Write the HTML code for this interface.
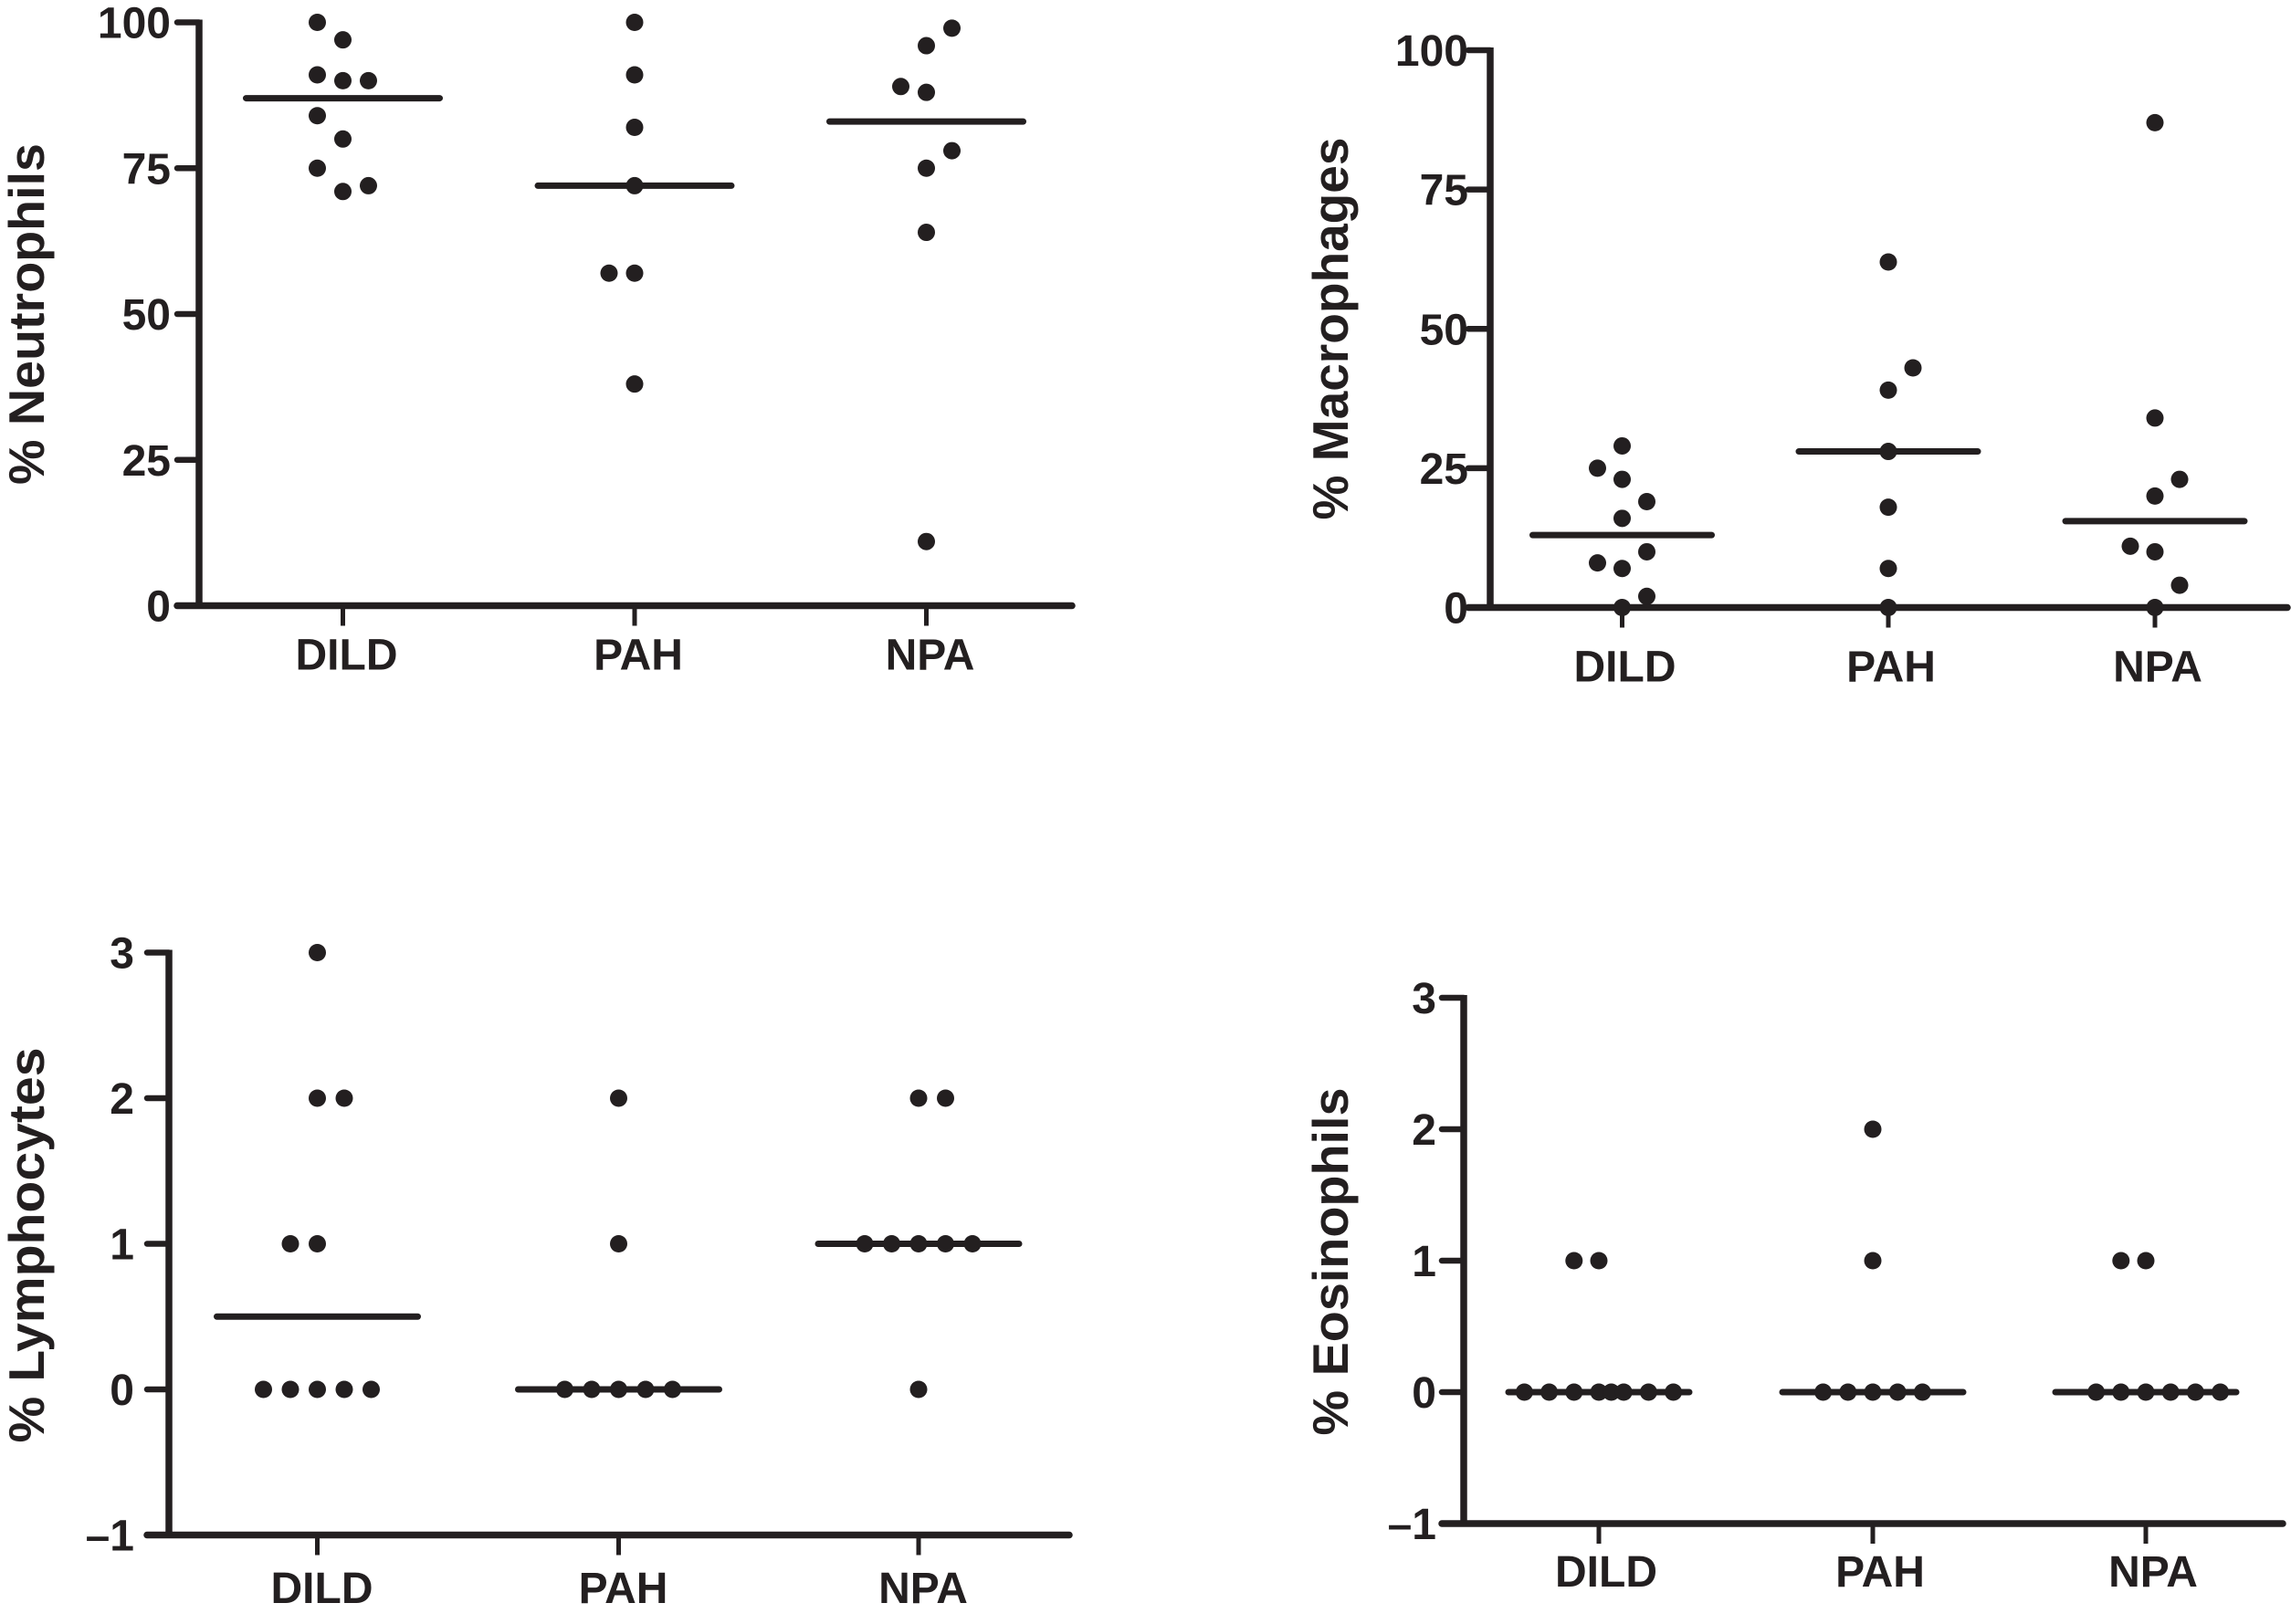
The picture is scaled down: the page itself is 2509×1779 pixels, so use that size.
<!DOCTYPE html>
<html lang="en">
<head>
<meta charset="utf-8">
<title>Cell percentages by diagnosis</title>
<style>
html,body{margin:0;padding:0;background:#fff;width:2509px;height:1779px;overflow:hidden}
svg{display:block}
text{font-family:"Liberation Sans",Arial,sans-serif;font-weight:700;fill:#231f20}
</style>
</head>
<body>
<svg id="figure" xmlns="http://www.w3.org/2000/svg" width="2509" height="1779" viewBox="0 0 2509 1779"></svg>
<script>
const categories = ['DILD', 'PAH', 'NPA'];

const percentTicks = [0, 25, 50, 75, 100];
const percentTickLabels = ['0', '25', '50', '75', '100'];
const smallTicks = [-1, 0, 1, 2, 3];
const smallTickLabels = ['–1', '0', '1', '2', '3'];

const neutrophilsDild = [100, 97, 91, 90, 90, 84, 80, 75, 72, 71];
const neutrophilsDildSlots = [-1, 0, -1, 0, 1, -1, 0, -1, 1, 0];
const neutrophilsPah = [100, 91, 82, 72, 57, 57, 38];
const neutrophilsPahSlots = [0, 0, 0, 0, -1, 0, 0];
const neutrophilsNpa = [99, 96, 89, 88, 78, 75, 64, 11];
const neutrophilsNpaSlots = [1, 0, -1, 0, 1, 0, 0, 0];
const neutrophilsMedians = [87, 72, 83];

const macrophagesDild = [29, 25, 23, 19, 16, 10, 8, 7, 2, 0];
const macrophagesDildSlots = [0, -1, 0, 1, 0, 1, -1, 0, 1, 0];
const macrophagesPah = [62, 43, 39, 28, 18, 7, 0];
const macrophagesPahSlots = [0, 1, 0, 0, 0, 0, 0];
const macrophagesNpa = [87, 34, 23, 20, 11, 10, 4, 0];
const macrophagesNpaSlots = [0, 0, 1, 0, -1, 0, 1, 0];
const macrophagesMedians = [13, 28, 15.5];

const lymphocytesDild = [3, 2, 2, 1, 1, 0, 0, 0, 0, 0];
const lymphocytesDildSlots = [0, 0, 1, -1, 0, -2, -1, 0, 1, 2];
const lymphocytesPah = [2, 1, 0, 0, 0, 0, 0];
const lymphocytesPahSlots = [0, 0, -2, -1, 0, 1, 2];
const lymphocytesNpa = [2, 2, 1, 1, 1, 1, 1, 0];
const lymphocytesNpaSlots = [0, 1, -2, -1, 0, 1, 2, 0];
const lymphocytesMedians = [0.5, 0, 1];

const eosinophilsDild = [1, 1, 0, 0, 0, 0, 0, 0, 0, 0];
const eosinophilsDildSlots = [-1, 0, -3, -2, -1, 0, 0.5, 1, 2, 3];
const eosinophilsPah = [2, 1, 0, 0, 0, 0, 0];
const eosinophilsPahSlots = [0, 0, -2, -1, 0, 1, 2];
const eosinophilsNpa = [1, 1, 0, 0, 0, 0, 0, 0];
const eosinophilsNpaSlots = [-1, 0, -2, -1, 0, 1, 2, 3];
const eosinophilsMedians = [0, 0, 0];

const SVG_NS = 'http://www.w3.org/2000/svg';
const INK = '#231f20';
const root = document.getElementById('figure');

function make(parent, tag, attrs, text) {
  const el = document.createElementNS(SVG_NS, tag);
  for (const k in attrs) el.setAttribute(k, attrs[k]);
  if (text !== undefined) el.textContent = text;
  parent.appendChild(el);
  return el;
}

function drawPanel(cfg) {
  const g = make(root, 'g', {});
  
  

  const domainMin = Math.min.apply(null, cfg.ticks);
  const domainMax = Math.max.apply(null, cfg.ticks);
  const yScale = function (v) {
    return cfg.yBottom + (v - domainMin) / (domainMax - domainMin) * (cfg.yTop - cfg.yBottom);
  };
  const xScale = function (catIndex, slot) {
    return cfg.centers[catIndex] + slot * cfg.slotStep;
  };

  const yAxis = make(g, 'line', { x1: cfg.axisX, x2: cfg.axisX, y1: yScale(domainMax) - 3, y2: yScale(domainMin), stroke: INK, 'stroke-width': 7.5 });
  
  

  const xAxis = make(g, 'line', { x1: cfg.axisX - 24, x2: cfg.axisEnd, y1: yScale(domainMin), y2: yScale(domainMin), stroke: INK, 'stroke-width': 7.5, 'stroke-linecap': 'round' });
  
  

  cfg.ticks.forEach(function (t, i) {
    const tick = make(g, 'line', { x1: cfg.axisX - 24, x2: cfg.axisX, y1: yScale(t), y2: yScale(t), stroke: INK, 'stroke-width': 6.5, 'stroke-linecap': 'round' });
    
    
    const label = make(g, 'text', { x: cfg.axisX - cfg.tickGap, y: yScale(t) + 17, 'text-anchor': 'end', 'font-size': 48 }, cfg.tickLabels[i]);
    
    
  });

  const title = make(g, 'text', {
    transform: 'translate(' + cfg.titleX + ' ' + cfg.titleY + ') rotate(-90)',
    'text-anchor': 'middle', 'font-size': 55,
    textLength: cfg.titleLength, lengthAdjust: 'spacingAndGlyphs'
  }, cfg.title);
  
  

  categories.forEach(function (cat, c) {
    const tick = make(g, 'line', { x1: cfg.centers[c], x2: cfg.centers[c], y1: yScale(domainMin), y2: yScale(domainMin) + 22, stroke: INK, 'stroke-width': 5 });
    
    

    const label = make(g, 'text', { x: cfg.centers[c] + cfg.labelShift, y: cfg.labelY, 'text-anchor': 'middle', 'font-size': 48 }, cat);
    
    

    const median = make(g, 'line', {
      x1: cfg.centers[c] - cfg.medianHalf, x2: cfg.centers[c] + cfg.medianHalf,
      y1: yScale(cfg.medians[c]), y2: yScale(cfg.medians[c]),
      stroke: INK, 'stroke-width': 7, 'stroke-linecap': 'round'
    });
    
    

    cfg.values[c].forEach(function (v, i) {
      const dot = make(g, 'circle', { cx: xScale(c, cfg.slots[c][i]), cy: yScale(v), r: 9.5, fill: INK });
      
      
    });
  });
}

drawPanel({
  name: 'neutrophils', title: '% Neutrophils', titleX: 48, titleY: 344, titleLength: 374,
  ticks: percentTicks, tickLabels: percentTickLabels,
  values: [neutrophilsDild, neutrophilsPah, neutrophilsNpa],
  slots: [neutrophilsDildSlots, neutrophilsPahSlots, neutrophilsNpaSlots],
  medians: neutrophilsMedians,
  axisX: 218, axisEnd: 1174, yTop: 24.5, yBottom: 663.5, centers: [375.5, 695, 1014.5],
  slotStep: 28, medianHalf: 106, labelShift: 4, labelY: 733.5, tickGap: 31
});

drawPanel({
  name: 'macrophages', title: '% Macrophages', titleX: 1476, titleY: 360, titleLength: 419,
  ticks: percentTicks, tickLabels: percentTickLabels,
  values: [macrophagesDild, macrophagesPah, macrophagesNpa],
  slots: [macrophagesDildSlots, macrophagesPahSlots, macrophagesNpaSlots],
  medians: macrophagesMedians,
  axisX: 1632, axisEnd: 2505, yTop: 55, yBottom: 665.5, centers: [1776.5, 2068, 2360],
  slotStep: 27, medianHalf: 98, labelShift: 3, labelY: 746.5, tickGap: 24
});

drawPanel({
  name: 'lymphocytes', title: '% Lymphocytes', titleX: 48, titleY: 1364, titleLength: 433,
  ticks: smallTicks, tickLabels: smallTickLabels,
  values: [lymphocytesDild, lymphocytesPah, lymphocytesNpa],
  slots: [lymphocytesDildSlots, lymphocytesPahSlots, lymphocytesNpaSlots],
  medians: lymphocytesMedians,
  axisX: 185, axisEnd: 1171, yTop: 1043.5, yBottom: 1681.5, centers: [347.5, 677.5, 1006],
  slotStep: 29.5, medianHalf: 110, labelShift: 5, labelY: 1756, tickGap: 38
});

drawPanel({
  name: 'eosinophils', title: '% Eosinophils', titleX: 1476, titleY: 1382, titleLength: 381,
  ticks: smallTicks, tickLabels: smallTickLabels,
  values: [eosinophilsDild, eosinophilsPah, eosinophilsNpa],
  slots: [eosinophilsDildSlots, eosinophilsPahSlots, eosinophilsNpaSlots],
  medians: eosinophilsMedians,
  axisX: 1603, axisEnd: 2500, yTop: 1093, yBottom: 1669, centers: [1751, 2051, 2350],
  slotStep: 27.2, medianHalf: 99, labelShift: 8, labelY: 1738, tickGap: 30
});
</script>
</body>
</html>
